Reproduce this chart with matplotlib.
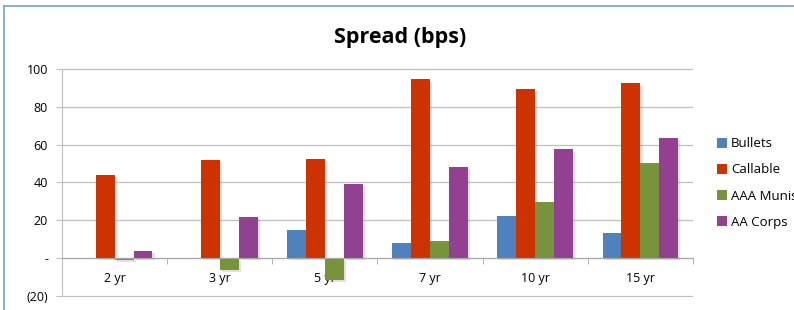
import matplotlib
matplotlib.use("Agg")
import matplotlib.pyplot as plt
import matplotlib.patheffects as pe
from matplotlib.lines import Line2D
from matplotlib.patches import Patch
import numpy as np

categories = ["2 yr", "3 yr", "5 yr", "7 yr", "10 yr", "15 yr"]
series_names = ["Bullets", "Callable", "AAA Munis", "AA Corps"]
bullets = [0, 0, 15, 8, 22, 13]
callable_ = [44, 52, 52.6, 94.4, 89.6, 92.3]
aaa_munis = [-1.2, -6.5, -11.8, 9, 29.6, 50.2]
aa_corps = [4, 21.7, 39.3, 48.4, 57.4, 63.3]
yticks = [-20, 0, 20, 40, 60, 80, 100]
ytick_labels = ["(20)", "-", "20", "40", "60", "80", "100"]

colors = ["#4F81BD", "#CC3300", "#77933C", "#924190"]
series = [bullets, callable_, aaa_munis, aa_corps]

plt.rcParams['font.family'] = ['Open Sans', 'DejaVu Sans']

fig = plt.figure(figsize=(7.94, 3.10), dpi=100)
ax = fig.add_axes([62/794, 1-296.5/310, (693-62)/794, (296.5-68.3)/310])

x = np.arange(len(categories))
w = 0.18
shadow = [pe.SimplePatchShadow(offset=(1.5, -1.5), shadow_rgbFace='#888888', alpha=0.25), pe.Normal()]
for i, (name, vals, c) in enumerate(zip(series_names, series, colors)):
    bars = ax.bar(x + (i - 1.5) * w, vals, width=w, color=c, label=name, zorder=3)
    for b in bars:
        if b.get_height() != 0:
            b.set_path_effects(shadow)

ax.set_xlim(-0.5, len(categories) - 0.5)
ax.set_ylim(-20.3, 100.3)
ax.set_yticks(yticks)
ax.set_yticklabels(ytick_labels, fontsize=9)
ax.yaxis.grid(True, color="#BFBFBF", linewidth=0.9, zorder=0)
ax.tick_params(axis='y', length=4, color="#BFBFBF", pad=6)

for s in ["top", "right"]:
    ax.spines[s].set_visible(False)
ax.spines["left"].set_color("#BFBFBF")
ax.spines["left"].set_bounds(-20, 100)
ax.spines["bottom"].set_position(("data", 0))
ax.spines["bottom"].set_color("#A6A6A6")
ax.spines["bottom"].set_zorder(4)

ax.set_xticks(x)
ax.set_xticklabels(categories, fontsize=9)
ax.set_xticks(np.arange(len(categories) + 1) - 0.5, minor=True)
ax.tick_params(axis='x', which='major', length=0, pad=10)
ax.tick_params(axis='x', which='minor', length=4, color="#A6A6A6", direction='out')

fig.text(400/794, 1-37/310, "Spread (bps)", ha="center", va="center",
         fontsize=15.5, fontweight="bold")

handles = [Patch(facecolor=c, edgecolor='none') for c in colors]
leg = fig.legend(handles=handles, labels=series_names, loc="upper left",
                 bbox_to_anchor=(712/794, 1-132/310), frameon=False, fontsize=9.5,
                 handlelength=0.75, handleheight=0.75, handletextpad=0.3,
                 labelspacing=1.0, borderaxespad=0)

border_c = "#7FA6D8"
fig.add_artist(Line2D([3.5/794, 3.5/794], [0, 1-5.5/310], transform=fig.transFigure,
                      color=border_c, linewidth=1.3))
fig.add_artist(Line2D([3.5/794, 1], [1-5.5/310, 1-5.5/310], transform=fig.transFigure,
                      color=border_c, linewidth=1.3))

fig.savefig("out.png", dpi=100)
